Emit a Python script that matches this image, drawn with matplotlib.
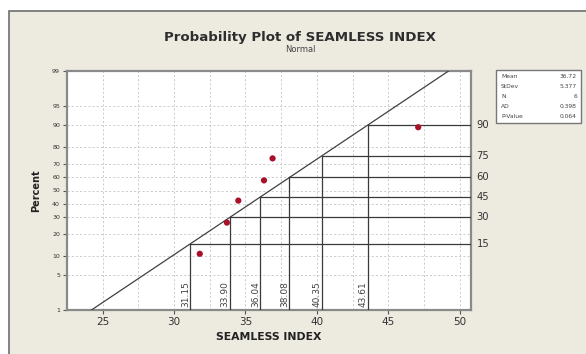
import math
import numpy as np
import matplotlib
matplotlib.use("Agg")
import matplotlib.pyplot as plt
from matplotlib.patches import Rectangle
from statistics import NormalDist

# ---- data ----
values = [31.8, 33.7, 34.5, 36.3, 36.9, 47.1]
percents = [10.9, 26.6, 42.2, 57.8, 73.4, 89.1]
fit_mean = 36.72
fit_sd = 5.377
ref_percents = [15, 30, 45, 60, 75, 90]
ref_values = [31.15, 33.90, 36.04, 38.08, 40.35, 43.61]
ref_labels = ["31.15", "33.90", "36.04", "38.08", "40.35", "43.61"]
y_ticks = [1, 5, 10, 20, 30, 40, 50, 60, 70, 80, 90, 95, 99]
x_ticks = [25, 30, 35, 40, 45, 50]
stats_names = ["Mean", "StDev", "N", "AD", "P-Value"]
stats_values = ["36.72", "5.377", "6", "0.398", "0.064"]

_nd = NormalDist()
_inv = np.vectorize(lambda p: _nd.inv_cdf(min(max(p / 100.0, 1e-9), 1 - 1e-9)), otypes=[float])
_cdf = np.vectorize(lambda z: 100.0 * _nd.cdf(z), otypes=[float])


def fwd(p):
    return _inv(np.asarray(p, dtype=float))


def inv(z):
    return _cdf(np.asarray(z, dtype=float))


W, H = 586, 354
fig = plt.figure(figsize=(W / 100, H / 100), dpi=100, facecolor="white")

# outer beige panel with border
fig.patches.append(Rectangle((9 / W, -0.1), 1.2, 1 - 11 / H + 0.1, transform=fig.transFigure,
                             facecolor="#EDEAE0", edgecolor="#6E6E6E", linewidth=1.2, zorder=-10))

L, R, T, B = 67, 471, 71, 310
ax = fig.add_axes([L / W, 1 - B / H, (R - L) / W, (B - T) / H])
ax.set_facecolor("white")
ax.set_yscale("function", functions=(fwd, inv))
ax.set_ylim(1, 99)
ax.set_xlim(22.7, 50.8)

ax.set_yticks(y_ticks)
ax.set_yticklabels([str(t) for t in y_ticks], fontsize=4.5, color="#333333")
ax.set_xticks(x_ticks)
ax.set_xticklabels([str(t) for t in x_ticks], fontsize=7.5, color="#333333")
ax.set_xticks([22.5 + 2.5 * i for i in range(12) if (22.5 + 2.5 * i) % 5 != 0], minor=True)
ax.yaxis.set_minor_locator(matplotlib.ticker.NullLocator())
ax.tick_params(axis="both", which="major", length=3, width=0.8, color="#555555", pad=2)
ax.tick_params(axis="x", which="minor", length=0)
ax.grid(True, which="both", axis="x", color="#C4C4C4", linestyle=(0, (2.5, 2.5)), linewidth=0.6)
ax.grid(True, which="major", axis="y", color="#C4C4C4", linestyle=(0, (2.5, 2.5)), linewidth=0.6)
ax.set_axisbelow(True)
for s in ax.spines.values():
    s.set_color("#8A8A8A")
    s.set_linewidth(1.6)

# fitted line
p_lo, p_hi = 1, 99
x_lo = fit_mean + fit_sd * NormalDist().inv_cdf(p_lo / 100)
x_hi = fit_mean + fit_sd * NormalDist().inv_cdf(p_hi / 100)
ax.plot([x_lo, x_hi], [p_lo, p_hi], color="#404040", linewidth=0.9, zorder=3, clip_on=True)

# reference lines
xr = ax.get_xlim()[1]
for p, xv, lab in zip(ref_percents, ref_values, ref_labels):
    ax.plot([xv, xr], [p, p], color="#3A3A3A", linewidth=0.9, zorder=3)
    ax.plot([xv, xv], [1, p], color="#3A3A3A", linewidth=0.9, zorder=3)
    ax.annotate(lab, xy=(xv, 1), xytext=(-0.3, 2), textcoords="offset points",
                rotation=90, ha="right", va="bottom", fontsize=6.5, color="#444444", zorder=4)
    ax.annotate(str(p), xy=(1, p), xycoords=("axes fraction", "data"), xytext=(4, 0),
                textcoords="offset points", ha="left", va="center", fontsize=7.2,
                color="#333333", annotation_clip=False)

# data points
ax.scatter(values, percents, s=20, color="#A8102A", zorder=5, edgecolors="none")

ax.set_xlabel("SEAMLESS INDEX", fontsize=7.8, fontweight="bold", labelpad=4, color="#222222")
ax.set_ylabel("Percent", fontsize=7, fontweight="bold", labelpad=8, color="#222222")

fig.text(0.5 * (163 + 437) / W, 1 - 37 / H, "Probability Plot of SEAMLESS INDEX",
         ha="center", va="center", fontsize=9.6, fontweight="bold", color="#2E2E2E")
fig.text(0.5 * (163 + 437) / W, 1 - 49 / H, "Normal", ha="center", va="center",
         fontsize=6, color="#444444")

# stats box
bx0, by0, bx1, by1 = 496, 70, 581, 123
fig.patches.append(Rectangle((bx0 / W, 1 - by1 / H), (bx1 - bx0) / W, (by1 - by0) / H,
                             transform=fig.transFigure, facecolor="white",
                             edgecolor="#777777", linewidth=1.0, zorder=1))
for i, (n, v) in enumerate(zip(stats_names, stats_values)):
    yy = 1 - (by0 + 7 + i * 9.8) / H
    fig.text((bx0 + 5) / W, yy, n, ha="left", va="center", fontsize=4.3, color="#444444")
    fig.text((bx1 - 4) / W, yy, v, ha="right", va="center", fontsize=4.3, color="#444444")

fig.savefig("out.png", dpi=100, facecolor=fig.get_facecolor())
